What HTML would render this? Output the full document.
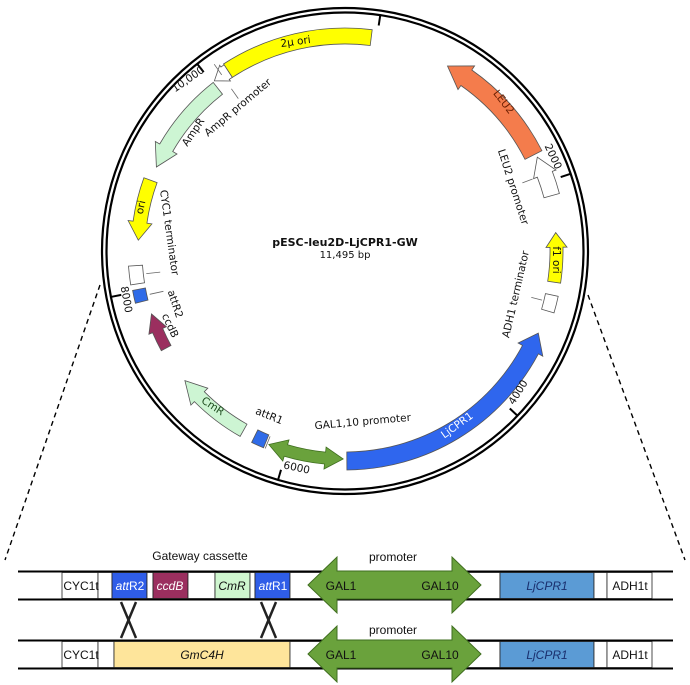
<!DOCTYPE html>
<html><head><meta charset="utf-8">
<style>
html,body{margin:0;padding:0;background:#fff;}
svg{display:block;font-family:"DejaVu Sans","Liberation Sans",sans-serif;}
.t{font-size:10.5px;fill:#111;}
.b{font-family:"Liberation Sans",sans-serif;font-size:12px;fill:#111;}
</style></head>
<body>
<svg id="s" width="690" height="685" viewBox="0 0 690 685" xmlns="http://www.w3.org/2000/svg">
<rect width="690" height="685" fill="#fff"/>
<circle cx="345" cy="251" r="243" fill="none" stroke="#000" stroke-width="2.2"/>
<circle cx="345" cy="251" r="238.5" fill="none" stroke="#000" stroke-width="2.2"/>
<g id="feat"></g>
<line x1="100" y1="285" x2="5" y2="560" stroke="#000" stroke-width="1.4" stroke-dasharray="5,4"/>
<line x1="588" y1="295" x2="685" y2="560" stroke="#000" stroke-width="1.4" stroke-dasharray="5,4"/>
<text x="345" y="246" text-anchor="middle" style="font-size:11px;font-weight:bold;fill:#111">pESC-leu2D-LjCPR1-GW</text>
<text x="345" y="258" text-anchor="middle" style="font-size:10px;fill:#111">11,495 bp</text>
<text class="t" transform="translate(296,45) rotate(-8)" text-anchor="middle">2μ ori</text>
<text class="t" transform="translate(190,82) rotate(-35)" text-anchor="middle">10,000</text>
<text class="t" transform="translate(240,110) rotate(-40)" text-anchor="middle">AmpR promoter</text>
<text class="t" transform="translate(196,134) rotate(-56)" text-anchor="middle">AmpR</text>
<text class="t" transform="translate(166,233) rotate(82)" text-anchor="middle">CYC1 terminator</text>
<text class="t" transform="translate(144,208) rotate(-78)" text-anchor="middle">ori</text>
<text class="t" transform="translate(123,300) rotate(80)" text-anchor="middle">8000</text>
<text class="t" transform="translate(172,305) rotate(72)" text-anchor="middle">attR2</text>
<text class="t" transform="translate(167,327) rotate(65)" text-anchor="middle">ccdB</text>
<text class="t" transform="translate(211,409) rotate(33)" text-anchor="middle" style="fill:#1e4d1e">CmR</text>
<text class="t" transform="translate(268,419) rotate(22)" text-anchor="middle">attR1</text>
<text class="t" transform="translate(363,425) rotate(-5)" text-anchor="middle">GAL1,10 promoter</text>
<text class="t" transform="translate(296,471) rotate(12)" text-anchor="middle">6000</text>
<text class="t" transform="translate(459,428) rotate(-36)" text-anchor="middle" style="fill:#fff">LjCPR1</text>
<text class="t" transform="translate(521,394) rotate(-58)" text-anchor="middle">4000</text>
<text class="t" transform="translate(519,295) rotate(-77)" text-anchor="middle">ADH1 terminator</text>
<text class="t" transform="translate(553,260) rotate(90)" text-anchor="middle">f1 ori</text>
<text class="t" transform="translate(510,188) rotate(72)" text-anchor="middle">LEU2 promoter</text>
<text class="t" transform="translate(550,158) rotate(65)" text-anchor="middle">2000</text>
<text class="t" transform="translate(501,104) rotate(52)" text-anchor="middle" style="fill:#6b1e00">LEU2</text>

<g stroke="#000">
<line x1="18" y1="571.5" x2="673" y2="571.5" stroke-width="2"/>
<line x1="18" y1="599.5" x2="673" y2="599.5" stroke-width="2"/>
<line x1="18" y1="640.5" x2="673" y2="640.5" stroke-width="2"/>
<line x1="18" y1="668.5" x2="673" y2="668.5" stroke-width="2"/>
</g>
<g stroke="#222" stroke-width="0.8">
<rect x="62" y="572.5" width="36" height="26" fill="#fff"/>
<rect x="98" y="572.5" width="14" height="26" fill="#fff"/>
<rect x="112" y="572.5" width="35" height="26" fill="#2f5de8"/>
<rect x="147" y="572.5" width="6" height="26" fill="#fff"/>
<rect x="153" y="572.5" width="35" height="26" fill="#9b2f5f"/>
<rect x="188" y="572.5" width="27" height="26" fill="#fff"/>
<rect x="215" y="572.5" width="35" height="26" fill="#cff6cf"/>
<rect x="250" y="572.5" width="5" height="26" fill="#fff"/>
<rect x="255" y="572.5" width="35" height="26" fill="#2f5de8"/>
<rect x="290" y="572.5" width="210" height="26" fill="#fff"/>
<rect x="500" y="572.5" width="94" height="26" fill="#5b9bd5"/>
<rect x="594" y="572.5" width="13" height="26" fill="#fff"/>
<rect x="607" y="572.5" width="45" height="26" fill="#fff"/>
<rect x="62" y="641.5" width="36" height="26" fill="#fff"/>
<rect x="98" y="641.5" width="16" height="26" fill="#fff"/>
<rect x="114" y="641.5" width="176" height="26" fill="#fee59b"/>
<rect x="290" y="641.5" width="210" height="26" fill="#fff"/>
<rect x="500" y="641.5" width="94" height="26" fill="#5b9bd5"/>
<rect x="594" y="641.5" width="13" height="26" fill="#fff"/>
<rect x="607" y="641.5" width="45" height="26" fill="#fff"/>
</g>
<g fill="#6aa23c" stroke="#3f6e1f" stroke-width="1">
<path d="M308,585 L337,557 L337,571 L452,571 L452,557 L481,585 L452,613 L452,599 L337,599 L337,613 Z"/>
<path d="M308,654 L337,626 L337,640 L452,640 L452,626 L481,654 L452,682 L452,668 L337,668 L337,682 Z"/>
</g>
<g stroke="#222" stroke-width="2.5">
<line x1="121" y1="602" x2="136" y2="638"/><line x1="136" y1="602" x2="121" y2="638"/>
<line x1="261" y1="602" x2="276" y2="638"/><line x1="276" y1="602" x2="261" y2="638"/>
</g>
<g class="b">
<text x="81" y="590" text-anchor="middle" class="b">CYC1t</text>
<text x="130" y="590" text-anchor="middle" class="b" style="fill:#fff"><tspan font-style="italic">att</tspan>R2</text>
<text x="170" y="590" text-anchor="middle" class="b" style="fill:#fff;font-style:italic">ccdB</text>
<text x="232" y="590" text-anchor="middle" class="b" style="font-style:italic">CmR</text>
<text x="273" y="590" text-anchor="middle" class="b" style="fill:#fff"><tspan font-style="italic">att</tspan>R1</text>
<text x="341" y="590" text-anchor="middle" class="b">GAL1</text>
<text x="440" y="590" text-anchor="middle" class="b">GAL10</text>
<text x="547" y="590" text-anchor="middle" class="b" style="font-style:italic;fill:#1a2f6e">LjCPR1</text>
<text x="630" y="590" text-anchor="middle" class="b">ADH1t</text>
<text x="200" y="560" text-anchor="middle" class="b">Gateway cassette</text>
<text x="393" y="561" text-anchor="middle" class="b">promoter</text>
<text x="393" y="634" text-anchor="middle" class="b">promoter</text>
<text x="81" y="659" text-anchor="middle" class="b">CYC1t</text>
<text x="202" y="659" text-anchor="middle" class="b" style="font-style:italic">GmC4H</text>
<text x="341" y="659" text-anchor="middle" class="b">GAL1</text>
<text x="440" y="659" text-anchor="middle" class="b">GAL10</text>
<text x="547" y="659" text-anchor="middle" class="b" style="font-style:italic;fill:#1a2f6e">LjCPR1</text>
<text x="630" y="659" text-anchor="middle" class="b">ADH1t</text>
</g>
</svg>
<script>
(function(){
var cx=345,cy=251,g=document.getElementById('feat'),NS='http://www.w3.org/2000/svg';
function P(r,a){a=a*Math.PI/180;return (cx+r*Math.sin(a)).toFixed(1)+','+(cy-r*Math.cos(a)).toFixed(1);}
function arc(r,a1,a2){var sw=a2>a1?1:0,lg=Math.abs(a2-a1)>180?1:0;return 'A'+r+','+r+' 0 '+lg+','+sw+' '+P(r,a2);}
function add(d,fill,stroke){var p=document.createElementNS(NS,'path');p.setAttribute('d',d);p.setAttribute('fill',fill);p.setAttribute('stroke',stroke||'#555');p.setAttribute('stroke-width','0.8');g.appendChild(p);}
function band(a1,a2,ri,ro,fill){add('M'+P(ro,a1)+arc(ro,a1,a2)+'L'+P(ri,a2)+arc(ri,a2,a1)+'Z',fill);}
function arrow(a1,a2,ri,ro,w,hl,fill){var d=a2>a1?1:-1,ah=a2-d*hl,rm=(ri+ro)/2;
 add('M'+P(ro,a1)+arc(ro,a1,ah)+'L'+P(ro+w,ah)+'L'+P(rm,a2)+'L'+P(ri-w,ah)+'L'+P(ri,ah)+arc(ri,ah,a1)+'Z',fill);}
function tick(a){var p=document.createElementNS(NS,'path');p.setAttribute('d','M'+P(238,a)+'L'+P(228,a));p.setAttribute('stroke','#000');p.setAttribute('stroke-width','2');g.appendChild(p);}
function line(r1,r2,a){var p=document.createElementNS(NS,'path');p.setAttribute('d','M'+P(r1,a)+'L'+P(r2,a));p.setAttribute('stroke','#666');p.setAttribute('stroke-width','0.8');g.appendChild(p);}
band(-33,7,207,223,'#ffff00');
arrow(327,322.5,207,222,2,3.5,'#fff');
arrow(322,294,199,214,5,6,'#cdf5d3');
arrow(290,273,200,214,5,5,'#ffff00');
band(266,261,203,217,'#fff');
band(259.5,256,203,216,'#2f6be8');
arrow(241.5,252,198,209,4,5,'#9b2f5f');
arrow(209.5,231,199,213,5,6,'#cdf5d3');
band(206,202.5,199,213,'#2f6be8');
(function(){var a1=201.5,a2=180.5,ri=202,ro=214,w=5,hl=5,rm=(ri+ro)/2;
 add('M'+P(rm,a1)+'L'+P(ro+w,a1-hl)+'L'+P(ro,a1-hl)+arc(ro,a1-hl,a2+hl)+'L'+P(ro+w,a2+hl)+'L'+P(rm,a2)+'L'+P(ri-w,a2+hl)+'L'+P(ri,a2+hl)+arc(ri,a2+hl,a1-hl)+'L'+P(ri-w,a1-hl)+'Z','#6aa23c','#3f6e1f');})();
arrow(179.5,113,201,219,5,5,'#2f66ee');
band(106.5,102,205,218,'#fff');
arrow(98.5,85,205,218,4,4,'#ffff00');
arrow(75,64,206,222,4,5,'#fff');
arrow(63,29,202,221,5,6,'#f47c4c');
tick(8.5);tick(71.1);tick(133.7);tick(196.3);tick(258.9);tick(321.7);
line(200,186,263.5);line(200,186,257.5);line(198,186,325);line(215,228,325);line(213,200,202);line(201,190,69);line(203,192,104);
})();
</script>
</body></html>
